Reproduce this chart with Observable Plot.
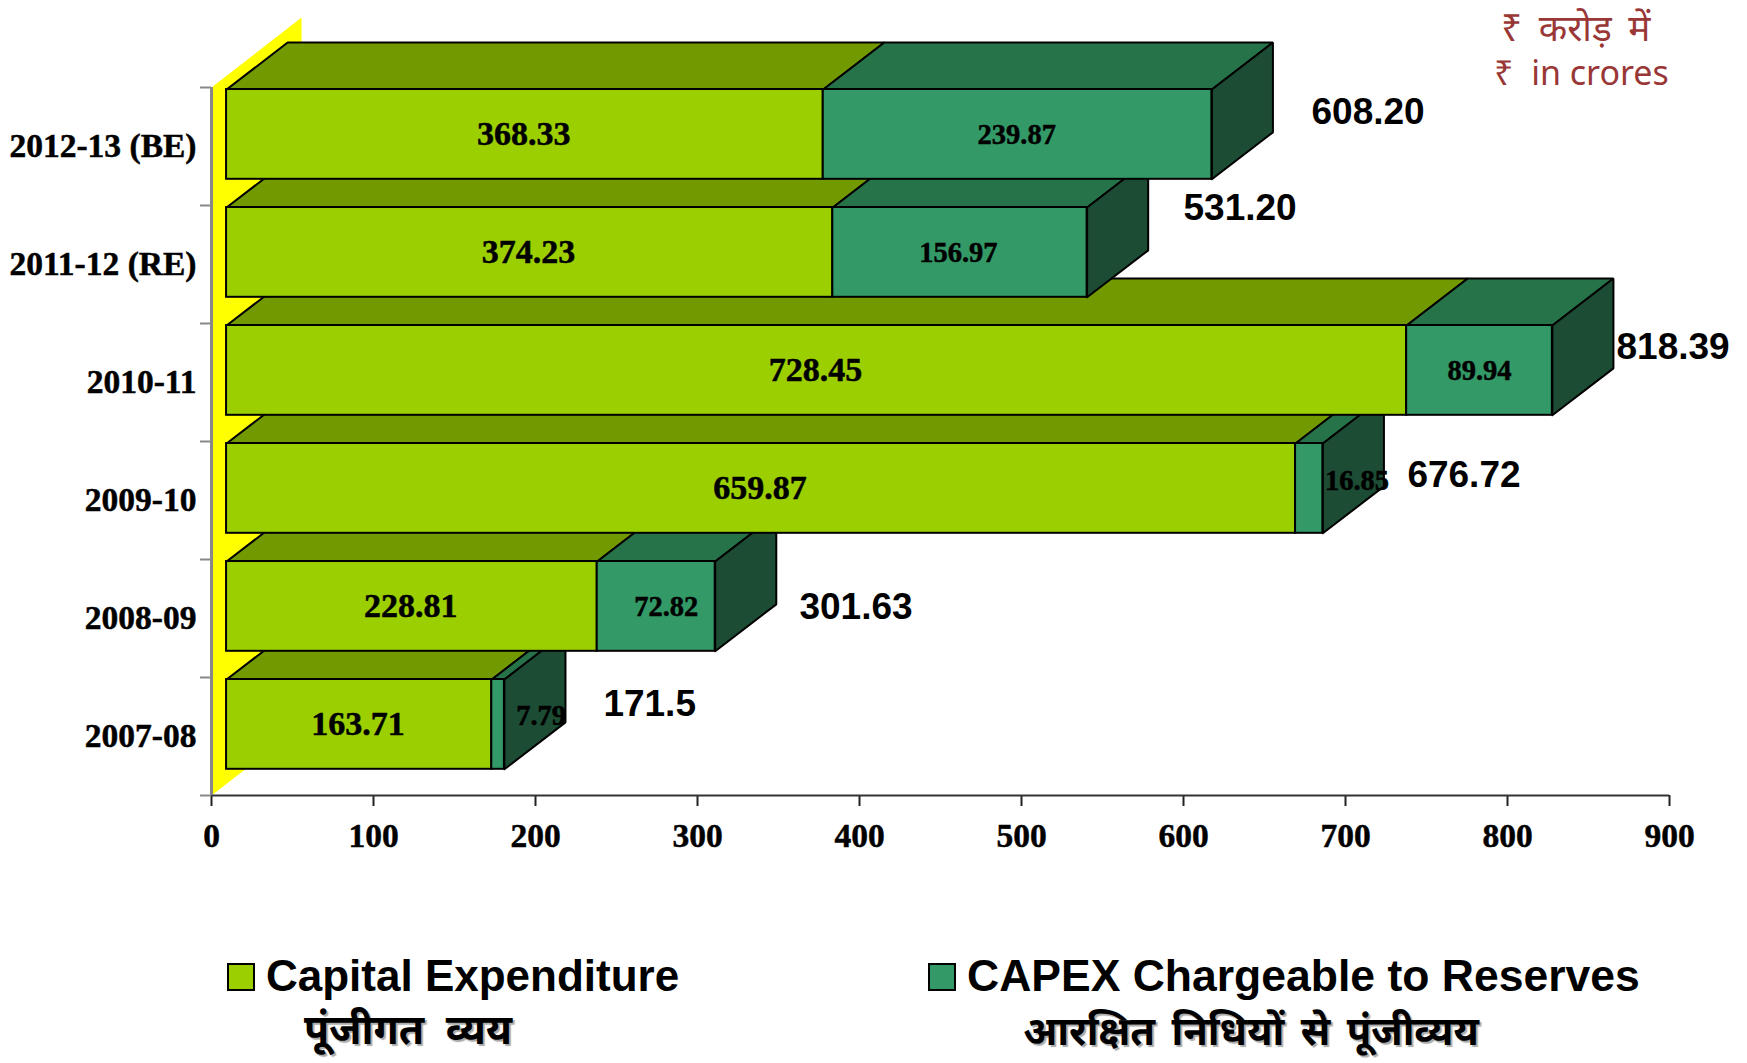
<!DOCTYPE html>
<html>
<head>
<meta charset="utf-8">
<script src="https://cdn.jsdelivr.net/npm/d3@7"></script>
<script src="https://cdn.jsdelivr.net/npm/@observablehq/plot@0.6"></script>
<style>
  html, body { margin: 0; padding: 0; background: #fff; overflow: hidden; }
  #page { position: relative; width: 1747px; height: 1063px; overflow: hidden; }
  #page svg { display: block; }
  .t { position: absolute; white-space: nowrap; line-height: 1; transform: translateY(-50%); }
  .lat { font: bold 44.5px "Liberation Sans", Arial, sans-serif; color: #000; }
  .hin { font: bold 40px "Noto Sans Devanagari", "Noto Serif Devanagari", "Noto Sans", "DejaVu Sans", sans-serif; color: #000; text-shadow: 2px 2px 1px #aaa; transform: translate(-50%, -50%); }
  .unit { font: 34px "Noto Sans", "Open Sans", "DejaVu Sans", sans-serif; color: #993737; }
  .unit.dev { font-size: 37px; word-spacing: 7px; }
  .sw { position: absolute; width: 24px; height: 24px; border: 2px solid #000; }
</style>
</head>
<body>
<div id="page"></div>
<script>
// bottom row first, the order in which the rows overlap
const categories = ["2007-08", "2008-09", "2009-10", "2010-11", "2011-12 (RE)", "2012-13 (BE)"];
const capitalExpenditure = [163.71, 228.81, 659.87, 728.45, 374.23, 368.33];
const chargeableToReserves = [7.79, 72.82, 16.85, 89.94, 156.97, 239.87];
const totalLabels = ["171.5", "301.63", "676.72", "818.39", "531.20", "608.20"];
const xTicks = [0, 100, 200, 300, 400, 500, 600, 700, 800, 900];

// where the free-floating labels sit on the chart's scales
const totalLabelX = [241.9, 362.9, 738.2, 867.3, 600, 679];
const totalLabelY = [0.771, 1.593, 2.714, 3.799, 4.981, 5.79];
const reservesLabelShiftX = [26.6, 6.2, 29.5, 0, -1, -0.5];
const reservesLabelShiftY = [0.076, 0, 0.06, 0, 0, 0];

// 3-D construction, in scale units
const base = 9.3, depthX = 37.7, depthY = 0.398;
const wallX = 55.6, wallY = 0.593;
const rowBottom = 0.222, rowTop = 0.983;
const rowMid = (rowBottom + rowTop) / 2;

const c = {
  wall: "#ffff00",
  capFront: "#9ccf00", capTop: "#729900",
  resFront: "#339966", resTop: "#267349", resSide: "#1c4c33"
};

const poly = (pts, fill) => Plot.line([...pts, pts[0]], {
  x: d => d[0], y: d => d[1], fill, stroke: "#000", strokeWidth: 2,
  strokeLinejoin: "miter", curve: "linear"
});

const n = categories.length;
const marks = [
  Plot.line([[0, 0], [0, n], [wallX, n + wallY], [wallX, wallY], [0, 0]], {
    x: d => d[0], y: d => d[1], fill: c.wall, stroke: "none", curve: "linear"
  })
];

categories.forEach((cat, i) => {
  const x0 = base, x1 = base + capitalExpenditure[i], x2 = x1 + chargeableToReserves[i];
  const b = i + rowBottom, t = i + rowTop;
  const top = (a, e) => [[a, t], [e, t], [e + depthX, t + depthY], [a + depthX, t + depthY]];
  marks.push(
    poly(top(x0, x1), c.capTop),
    poly(top(x1, x2), c.resTop),
    poly([[x2, b], [x2, t], [x2 + depthX, t + depthY], [x2 + depthX, b + depthY]], c.resSide),
    Plot.rect([{}], {x1: x0, x2: x1, y1: b, y2: t, fill: c.capFront, stroke: "#000", strokeWidth: 2}),
    Plot.rect([{}], {x1: x1, x2: x2, y1: b, y2: t, fill: c.resFront, stroke: "#000", strokeWidth: 2})
  );
});

const idx = d3.range(n);
const serif = "'Liberation Serif','Times New Roman',serif";
const sans = "'Liberation Sans',Arial,sans-serif";
const heavy = {fontFamily: serif, fontWeight: "bold", fill: "#000", stroke: "#000", strokeWidth: 0.5};

marks.push(
  Plot.axisX({
    ticks: xTicks, tickSize: 11, tickPadding: 17, stroke: "#222", strokeWidth: 2,
    fontFamily: serif, fontWeight: "bold", fontSize: 33.5, fill: "#000",
    textStroke: "#000", textStrokeWidth: 0.5, label: null, tickFormat: d3.format("d")
  }),
  Plot.ruleY([0], {x1: 0, x2: 900, stroke: "#333", strokeWidth: 2}),
  Plot.ruleX([0], {y1: 0, y2: n, stroke: "#888", strokeWidth: 3}),
  Plot.axisY({
    ticks: d3.range(0, n + 1), tickSize: 11, stroke: "#888", strokeWidth: 2,
    tickFormat: () => "", label: null
  }),
  Plot.axisY({
    ticks: idx.map(i => i + 0.5), tickSize: 0, tickPadding: 15,
    tickFormat: d => categories[Math.floor(d)], label: null,
    fontFamily: serif, fontWeight: "bold", fontSize: 33.5, fill: "#000",
    textStroke: "#000", textStrokeWidth: 0.5
  }),
  Plot.text(idx, {
    x: i => base - 0.7 + capitalExpenditure[i] / 2, y: i => i + rowMid,
    text: i => capitalExpenditure[i].toFixed(2),
    ...heavy, fontSize: 34
  }),
  Plot.text(idx, {
    x: i => base + capitalExpenditure[i] + chargeableToReserves[i] / 2 + reservesLabelShiftX[i],
    y: i => i + rowMid + reservesLabelShiftY[i],
    text: i => chargeableToReserves[i].toFixed(2),
    ...heavy, fontSize: 28.5
  }),
  Plot.text(idx, {
    x: i => totalLabelX[i], y: i => totalLabelY[i], text: i => totalLabels[i],
    textAnchor: "start", fontFamily: sans, fontWeight: "bold", fontSize: 37, fill: "#000"
  })
);

const chart = Plot.plot({
  width: 1747, height: 950,
  marginLeft: 211, marginRight: 78, marginTop: 87, marginBottom: 155,
  style: {background: "transparent", overflow: "visible"},
  x: {domain: [0, 900], axis: null},
  y: {domain: [0, n], axis: null},
  marks
});
const page = document.getElementById("page");
page.appendChild(chart);

const add = (cls, x, y, text) => {
  const el = document.createElement("div");
  el.className = cls;
  el.style.left = x + "px";
  el.style.top = y + "px";
  if (text) el.textContent = text;
  page.appendChild(el);
  return el;
};
add("sw", 227, 963).style.background = c.capFront;
add("sw", 928, 963).style.background = c.resFront;
add("t lat", 266, 976, "Capital Expenditure").style.fontSize = "44px";
add("t lat", 967, 976, "CAPEX Chargeable to Reserves");
const h1 = add("t hin", 408, 1034, "पूंजीगत व्यय");
h1.style.fontSize = "41px";
h1.style.wordSpacing = "11px";
add("t hin", 1251, 1035, "आरक्षित निधियों से पूंजीव्यय").style.wordSpacing = "6px";
add("t unit dev", 1501, 26, "₹ करोड़ में");
add("t unit", 1494, 72, "₹\u00a0\u00a0in crores");
</script>
</body>
</html>
